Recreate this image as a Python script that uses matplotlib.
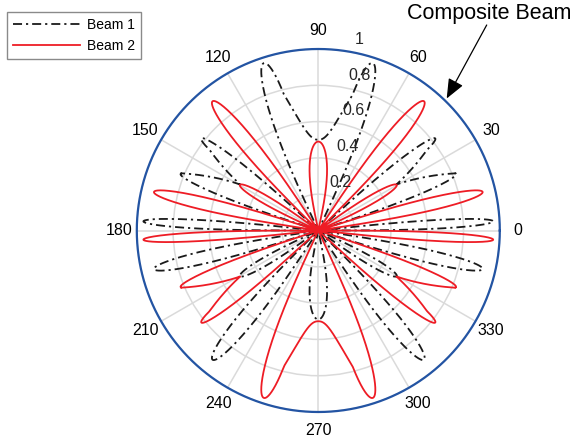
import numpy as np
import matplotlib
matplotlib.use("Agg")
import matplotlib.pyplot as plt
from matplotlib.transforms import offset_copy

plt.rcParams['font.family'] = ['Liberation Sans', 'DejaVu Sans']

# ---- values ----
# Beam 1 (black dash-dot): lobes -> centre angle (deg), peak radius, half width (deg)
beam1_lobe_angles = [-90, -50.7, -30.2, -13.2, 3.0, 22.3, 38.2, 72, 108,
                     141.8, 157.7, 177.0, 193.2, 210.2, 230.7]
beam1_lobe_peaks = [0.49, 0.92, 0.50, 0.93, 0.965, 0.82, 0.82, 0.97, 0.97,
                    0.82, 0.82, 0.965, 0.93, 0.50, 0.92]
beam1_lobe_widths = [12, 5.8, 5.5, 4.5, 3.0, 4.0, 4.3, 6.8, 6.8,
                     4.3, 4.0, 3.0, 4.5, 5.5, 5.8]
# Beam 1 valleys joining two lobes: centre, depth, half span (to the lobe centres), edge curvature
beam1_valley_angles = [30.5, 90, 149.5]
beam1_valley_depths = [0.50, 0.50, 0.50]
beam1_valley_spans = [7.9, 18, 7.9]
beam1_valley_bend = [1.0, 2.3, 1.0]

# Beam 2 (red solid)
beam2_lobe_angles = [90, 50.7, 30.2, 13.2, -3.0, -22.3, -38.2, -72, -108,
                     -141.8, -157.7, -177.0, -193.2, -210.2, -230.7]
beam2_lobe_peaks = [0.49, 0.92, 0.50, 0.93, 0.965, 0.82, 0.82, 0.97, 0.97,
                    0.82, 0.82, 0.965, 0.93, 0.50, 0.92]
beam2_lobe_widths = [12, 5.8, 5.5, 4.5, 3.0, 4.0, 4.3, 6.8, 6.8,
                     4.3, 4.0, 3.0, 4.5, 5.5, 5.8]
beam2_valley_angles = [-30.5, -90, -149.5]
beam2_valley_depths = [0.50, 0.50, 0.50]
beam2_valley_spans = [7.9, 18, 7.9]
beam2_valley_bend = [1.0, 2.3, 1.0]

composite_radius = 1.0

theta_ticks = list(range(0, 360, 30))
r_ticks = [0.2, 0.4, 0.6, 0.8, 1.0]
r_tick_labels = ['0.2', '0.4', '0.6', '0.8', '1']
legend_labels = ['Beam 1', 'Beam 2']
annotation_text = 'Composite Beam'


def wrap(d):
    return (d + 180.0) % 360.0 - 180.0


def beam_curve(l_ang, l_pk, l_w, v_ang, v_dep, v_span, v_bend):
    th = np.linspace(-180, 180, 36001)
    r = np.zeros_like(th)
    for a, p, w in zip(l_ang, l_pk, l_w):
        d = np.abs(wrap(th - a))
        part = np.where(d < w, p * np.sqrt(np.clip(np.cos(np.pi / 2 * d / w), 0, 1)), 0.0)
        r = np.maximum(r, part)
    for a, v, s, k in zip(v_ang, v_dep, v_span, v_bend):
        dv = wrap(th - a)
        d = np.abs(dv)
        part = np.zeros_like(th)
        for side in (-1, 1):
            pk = 0.0
            for la, lp in zip(l_ang, l_pk):
                if abs(wrap(la - (a + side * s))) < 0.6:
                    pk = lp
            sel = (np.sign(dv) == side) & (d <= s)
            part = np.where(sel, v + (pk - v) * (d / s) ** k, part)
        part = np.where(d < 1e-9, v, part)
        r = np.maximum(r, part)
    return np.deg2rad(th), r


W, H = 574, 447
fig = plt.figure(figsize=(W / 100, H / 100), dpi=100)
cx, cy, R = 318.3, 230.5, 181.5
ax = fig.add_axes([(cx - R) / W, (H - cy - R) / H, 2 * R / W, 2 * R / H],
                  projection='polar')

ax.set_rlim(0, 1)
ax.set_thetagrids(theta_ticks, labels=[''] * len(theta_ticks))
ax.set_rgrids(r_ticks, labels=[''] * len(r_ticks))
ax.grid(True, color='#dadada', lw=1.1)
ax.spines['polar'].set_visible(False)

th1, r1 = beam_curve(beam1_lobe_angles, beam1_lobe_peaks, beam1_lobe_widths,
                     beam1_valley_angles, beam1_valley_depths,
                     beam1_valley_spans, beam1_valley_bend)
th2, r2 = beam_curve(beam2_lobe_angles, beam2_lobe_peaks, beam2_lobe_widths,
                     beam2_valley_angles, beam2_valley_depths,
                     beam2_valley_spans, beam2_valley_bend)
l1, = ax.plot(th1, r1, color='#1a1a1a', lw=1.3, dashes=(5, 2.2, 1.2, 2.2))
l2, = ax.plot(th2, r2, color='#ee1c25', lw=1.3)

tc = np.linspace(0, 2 * np.pi, 721)
ax.plot(tc, np.full_like(tc, composite_radius), color='#2354a3', lw=1.6,
        clip_on=False, zorder=4)

for a in theta_ticks:
    ax.text(np.deg2rad(a), 1.10, str(a), ha='center', va='center',
            fontsize=11.5, clip_on=False)

tr = offset_copy(ax.transData, fig=fig, x=5, y=5, units='dots')
for rv, lab in zip(r_ticks, r_tick_labels):
    ax.text(np.deg2rad(80), rv, lab, ha='left', va='bottom', fontsize=11.5,
            color='#262626', transform=tr, zorder=6, clip_on=False)

fig.legend([l1, l2], legend_labels, loc='upper left',
           bbox_to_anchor=(7 / W, 1 - 12 / H), borderaxespad=0,
           fancybox=False, edgecolor='#8a8a8a', framealpha=1, fontsize=10,
           handlelength=4.8, handletextpad=0.5, borderpad=0.45,
           labelspacing=0.5)

fig.text(489 / W, 1 - 13 / H, annotation_text, ha='center', va='center',
         fontsize=15.5)
ax.annotate('', xy=(446.7 / W, 1 - 98.5 / H), xycoords='figure fraction',
            xytext=(486.7 / W, 1 - 25 / H), textcoords='figure fraction',
            arrowprops=dict(arrowstyle='-|>,head_length=0.6,head_width=0.25',
                            color='k', lw=0.9, mutation_scale=20,
                            shrinkA=0, shrinkB=0))

fig.savefig('out.png', dpi=100)
